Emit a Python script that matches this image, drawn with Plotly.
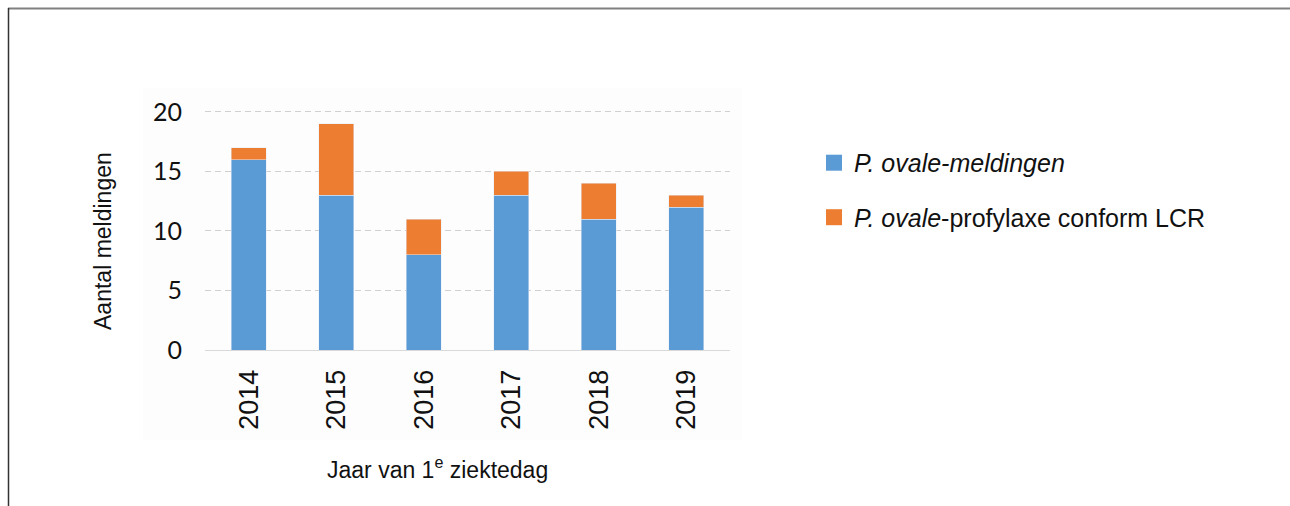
import plotly.graph_objects as go

years = ["2014", "2015", "2016", "2017", "2018", "2019"]
meldingen = [16, 13, 8, 13, 11, 12]
profylaxe = [1, 6, 3, 2, 3, 1]
y_ticks = [0, 5, 10, 15, 20]
y_max = 20.5
names = ["<i>P. ovale-meldingen</i>", "<i>P. ovale</i>-profylaxe conform LCR"]
colors = ["#5B9BD5", "#ED7D31"]

W, H = 1290, 506
L, R, B = 205, 730, 350
unit = (350 - 112) / 20.0
T = B - y_max * unit

fig = go.Figure()
for vals, name, col, grp in [(meldingen, names[0], colors[0], "a"),
                             (profylaxe, names[1], colors[1], "b")]:
    fig.add_trace(go.Bar(x=years, y=vals, name=name, marker_color=col,
                         legendgroup=grp, showlegend=False))
    fig.add_trace(go.Scatter(x=[None], y=[None], mode="markers", name=name, legendgroup=grp,
                             marker=dict(symbol="square", size=16, color=col,
                                         line=dict(width=0))))

pw, ph = R - L, B - T
def px(x): return (x - L) / pw
def py(y): return (B - y) / ph

shapes = [
    dict(type="rect", xref="paper", yref="paper", x0=px(143), x1=px(742), y0=py(440), y1=py(88),
         fillcolor="#fdfdfd", line_width=0, layer="below"),
    dict(type="line", xref="paper", yref="paper", x0=px(8), x1=px(1292), y0=py(8.5), y1=py(8.5),
         line=dict(color="#808080", width=2)),
    dict(type="line", xref="paper", yref="paper", x0=px(8.5), x1=px(8.5), y0=py(8), y1=py(510),
         line=dict(color="#333333", width=1.5)),
]

annotations = [
    dict(text="Jaar van 1<sup>e</sup> ziektedag", xref="paper", yref="paper",
         x=px(437), y=py(468), xanchor="center", yanchor="middle", showarrow=False,
         font=dict(family="Liberation Sans", size=23, color="#111111")),
    dict(text="Aantal meldingen", xref="paper", yref="paper", textangle=-90,
         x=px(103), y=py(241), xanchor="center", yanchor="middle", showarrow=False,
         font=dict(family="Liberation Sans", size=23, color="#111111")),
]

fig.update_layout(
    width=W, height=H,
    margin=dict(l=L, r=W - R, t=T, b=H - B, pad=0),
    barmode="stack", bargap=0.6,
    paper_bgcolor="white", plot_bgcolor="rgba(0,0,0,0)",
    shapes=shapes, annotations=annotations,
    showlegend=True,
    legend=dict(x=px(814), y=py(140), xanchor="left", yanchor="top",
                traceorder="grouped", tracegroupgap=19, itemsizing="trace",
                font=dict(family="Liberation Sans", size=25, color="#111111"),
                itemwidth=30, bgcolor="rgba(0,0,0,0)"),
    xaxis=dict(tickangle=-90, tickfont=dict(family="Liberation Sans", size=27, color="#111111"),
               showline=True, linecolor="#d9d9d9", linewidth=1, ticks="",
               ticklabelstandoff=8),
    yaxis=dict(range=[0, y_max], tickvals=y_ticks, showline=False, zeroline=False,
               tickfont=dict(family="Lato", size=25, color="#111111"),
               ticklabelstandoff=22,
               gridcolor="#d0d0d0", griddash="6px,4px", gridwidth=1),
)

fig.write_html("out.html")
